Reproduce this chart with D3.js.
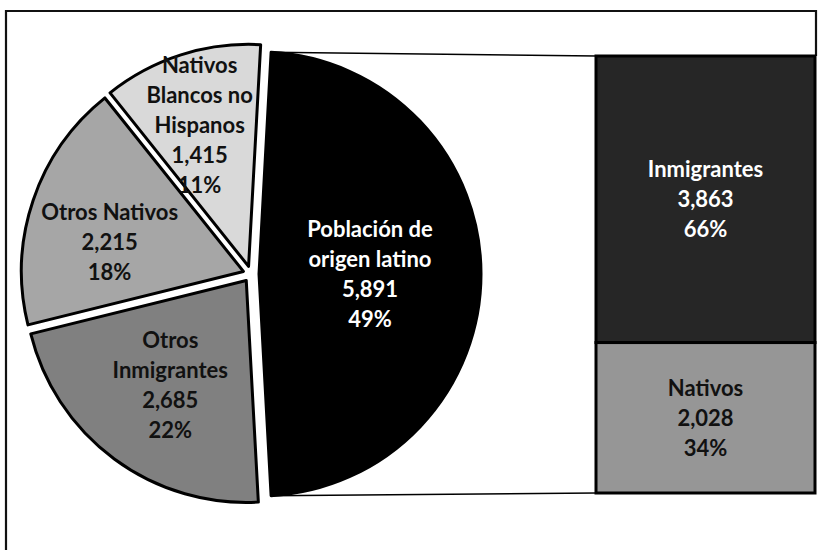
<!DOCTYPE html>
<html>
<head>
<meta charset="utf-8">
<script src="https://cdn.jsdelivr.net/npm/d3@7"></script>
<style>
  html, body { margin: 0; padding: 0; background: #fff; }
  svg { display: block; }
  text { font-family: Lato, "Open Sans", sans-serif; font-weight: 700; }
</style>
</head>
<body>
<svg id="chart" width="823" height="550"></svg>
<script>
// ---- data ----
const pieCategories = [["Población de", "origen latino"], ["Otros", "Inmigrantes"], ["Otros Nativos"], ["Nativos", "Blancos no", "Hispanos"]];
const pieValues = [5891, 2685, 2215, 1415];
const piePercents = ["49%", "22%", "18%", "11%"];
const barCategories = ["Inmigrantes", "Nativos"];
const barValues = [3863, 2028];
const barPercents = ["66%", "34%"];

// ---- layout / style ----
const W = 823, H = 550;
const cx = 251, cy = 274, R = 222, explode = 8;
const pieFills = ["#000000", "#808080", "#a6a6a6", "#d9d9d9"];
const pieText = ["#ffffff", "#111111", "#111111", "#111111"];
const labelR = [111, 129, 137, 150];
const labelDA = [0, -0.4, -6.3, -1.3];
const barFills = ["#262626", "#969696"];
const barText = ["#ffffff", "#111111"];
const barX0 = 596, barX1 = 815, barTop = 56, barBottom = 493;
const lineH = 30, fontSize = 22;
const fmt = d3.format(",");

const svg = d3.select("#chart");

// outer frame
svg.append("path")
  .attr("d", `M6,552 L6,11 L816,11 L816,${barTop}`)
  .attr("fill", "none").attr("stroke", "#111").attr("stroke-width", 2.2);

const total = d3.sum(pieValues);
const span0 = pieValues[0] / total * 2 * Math.PI;
const start = Math.PI / 2 - span0 / 2;
const pie = d3.pie().sort(null).value(d => d).startAngle(start).endAngle(start + 2 * Math.PI);
const arcs = pie(pieValues);
const arc = d3.arc().innerRadius(0).outerRadius(R);

const off = a => [explode * Math.sin(a), -explode * Math.cos(a)];

const g = svg.append("g");
arcs.forEach((a, i) => {
  const mid = (a.startAngle + a.endAngle) / 2;
  const [dx, dy] = off(mid);
  g.append("path")
    .attr("transform", `translate(${cx + dx},${cy + dy})`)
    .attr("d", arc(a))
    .attr("fill", pieFills[i])
    .attr("stroke", "#000")
    .attr("stroke-width", 3)
    .attr("stroke-linejoin", "round");
});

// bar
const y = d3.scaleLinear().domain([0, d3.sum(barValues)]).range([barBottom, barTop]);
let acc = d3.sum(barValues);
const segs = barValues.map((v, i) => { const s = { i, hi: acc, lo: acc - v }; acc -= v; return s; });

// connector lines
const a0 = arcs[0];
const [bdx, bdy] = off((a0.startAngle + a0.endAngle) / 2);
const bx = cx + bdx, by = cy + bdy;
const topPt = [bx + R * Math.sin(a0.startAngle), by - R * Math.cos(a0.startAngle)];
const botPt = [bx + R * Math.sin(a0.endAngle), by - R * Math.cos(a0.endAngle)];
svg.append("line").attr("x1", topPt[0]).attr("y1", topPt[1]).attr("x2", barX0).attr("y2", y(d3.sum(barValues)))
  .attr("stroke", "#000").attr("stroke-width", 1.5);
svg.append("line").attr("x1", botPt[0]).attr("y1", botPt[1]).attr("x2", barX0).attr("y2", y(0))
  .attr("stroke", "#000").attr("stroke-width", 1.5);

segs.forEach(s => {
  svg.append("rect")
    .attr("x", barX0).attr("y", y(s.hi))
    .attr("width", barX1 - barX0).attr("height", y(s.lo) - y(s.hi))
    .attr("fill", barFills[s.i]).attr("stroke", "#000").attr("stroke-width", 3);
});

function drawLabel(lines, x, yc, color) {
  const n = lines.length;
  const t = svg.append("text").attr("text-anchor", "middle").attr("font-size", fontSize).attr("fill", color);
  lines.forEach((l, k) => {
    t.append("tspan").attr("x", x).attr("y", yc - (n - 1) * lineH / 2 + k * lineH + 8).text(l);
  });
}

arcs.forEach((a, i) => {
  const mid = (a.startAngle + a.endAngle) / 2;
  const [dx, dy] = off(mid);
  const la = mid + labelDA[i] * Math.PI / 180;
  const lx = cx + dx + labelR[i] * Math.sin(la);
  const ly = cy + dy - labelR[i] * Math.cos(la);
  drawLabel([...pieCategories[i], fmt(pieValues[i]), piePercents[i]], lx, ly, pieText[i]);
});

segs.forEach(s => {
  const yc = (y(s.hi) + y(s.lo)) / 2;
  drawLabel([barCategories[s.i], fmt(barValues[s.i]), barPercents[s.i]], (barX0 + barX1) / 2, yc, barText[s.i]);
});
</script>
</body>
</html>
